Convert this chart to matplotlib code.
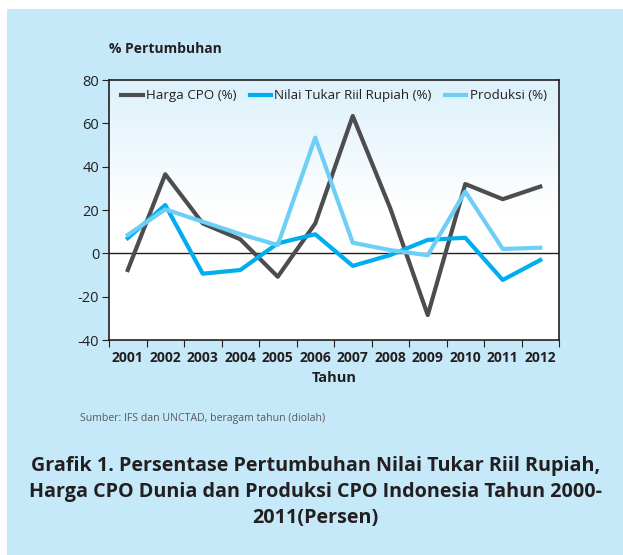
import matplotlib.pyplot as plt
from matplotlib.patches import Rectangle
from matplotlib.colors import LinearSegmentedColormap
import numpy as np

tahun = ['2001', '2002', '2003', '2004', '2005', '2006',
         '2007', '2008', '2009', '2010', '2011', '2012']
harga_cpo = [-7.7, 36.5, 13.8, 6.5, -10.8, 13.8, 63.4, 20.8, -28.5, 32.0, 25.0, 30.8]
nilai_tukar = [7.0, 22.3, -9.4, -7.7, 4.6, 8.8, -5.8, -0.8, 6.2, 7.2, -12.3, -3.1]
produksi = [8.5, 20.3, 14.6, 8.9, 3.8, 53.4, 4.9, 1.5, -0.9, 28.5, 2.0, 2.6]

plt.rcParams['font.family'] = ['Open Sans', 'DejaVu Sans']
plt.rcParams['axes.unicode_minus'] = False
bg = '#c6e9f9'
dark = '#231f20'

fig = plt.figure(figsize=(6.23, 5.55), dpi=100)
fig.patch.set_facecolor('white')
fig.patches.append(Rectangle((7 / 623, 0), 1, 1 - 9 / 555, transform=fig.transFigure,
                             facecolor=bg, edgecolor='none', zorder=-10))

ax = fig.add_axes([109 / 623, (555 - 340) / 555, 450 / 623, 260 / 555])

# latar gradasi: biru muda di atas, putih di bawah
grad = np.linspace(0, 1, 256).reshape(-1, 1)
cmap = LinearSegmentedColormap.from_list('bg', ['#ffffff', '#ffffff', '#dcf1fb'])
ax.imshow(grad, extent=[0, 12, -40, 80], aspect='auto', cmap=cmap,
          origin='lower', zorder=0)

x = np.arange(len(tahun)) + 0.5
ax.plot(x, harga_cpo, color='#4d4d4f', lw=3, label='Harga CPO (%)', zorder=3)
ax.plot(x, nilai_tukar, color='#00aeef', lw=3, label='Nilai Tukar Riil Rupiah (%)', zorder=3)
ax.plot(x, produksi, color='#6dcff6', lw=3, label='Produksi (%)', zorder=3)
ax.axhline(0, color=dark, lw=1, zorder=2)

ax.set_xlim(0, 12)
ax.set_ylim(-40, 80)
ax.set_yticks(range(-40, 81, 20))
ax.set_xticks(range(0, 13))
ax.set_xticklabels([])
ax.set_xticks(x, minor=True)
ax.set_xticklabels(tahun, minor=True, fontweight='bold', fontsize=10, color=dark)
ax.tick_params(axis='x', which='minor', length=0, pad=8)
ax.tick_params(axis='x', which='major', length=5, direction='out', color=dark)
ax.tick_params(axis='y', length=5, direction='out', color=dark, labelsize=10.5,
               labelcolor=dark, pad=2)
for s in ax.spines.values():
    s.set_color(dark)
    s.set_linewidth(1.2)

ax.set_xlabel('Tahun', fontweight='bold', fontsize=10.5, color=dark, labelpad=4)
ax.legend(loc='upper center', ncol=3, frameon=False, fontsize=9.6, handlelength=1.6,
          handletextpad=0.25, columnspacing=1.0, labelcolor=dark,
          bbox_to_anchor=(0.5, 1.01))

fig.text(109 / 623, 1 - 49 / 555, '% Pertumbuhan', fontweight='bold', fontsize=10,
         color=dark, va='center')
fig.text(80 / 623, 1 - 418 / 555, 'Sumber: IFS dan UNCTAD, beragam tahun (diolah)',
         fontsize=7.6, color='#58595b', va='center')
fig.text(0.5 + 4 / 623, 1 - 492 / 555,
         'Grafik 1. Persentase Pertumbuhan Nilai Tukar Riil Rupiah,\n'
         'Harga CPO Dunia dan Produksi CPO Indonesia Tahun 2000-\n'
         '2011(Persen)',
         fontweight='bold', fontsize=14.2, color=dark, ha='center', va='center',
         linespacing=1.4)

fig.savefig('out.png', dpi=100)
